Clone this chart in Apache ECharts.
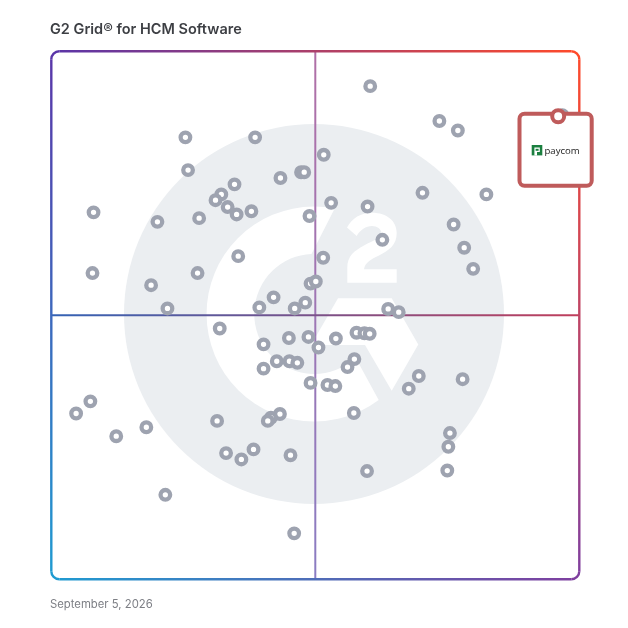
<!DOCTYPE html>
<html>
<head>
<meta charset="utf-8">
<title>G2 Grid for HCM Software</title>
<script src="https://cdn.jsdelivr.net/npm/echarts@6/dist/echarts.min.js"></script>
<style>
html, body { margin: 0; padding: 0; background: #fff; }
#container { width: 628px; height: 628px; }
</style>
</head>
<body>
<div id="container"></div>
<script>
var titleText = 'G2 Grid® for HCM Software';
var dateText = 'September 5, 2026';

// satisfaction / market presence scores
var otherX = [60.4, 73.5, 77.0, 96.8, 25.4, 38.6, 51.6, 25.9, 47.3, 47.9, 43.4, 34.7, 32.2, 31.1, 33.4, 35.1, 37.9, 28.0, 20.1, 8.0, 48.9,
    53.0, 59.9, 70.3, 82.4, 76.2, 78.2, 79.9, 62.7, 35.4, 51.5, 27.7, 7.8, 18.9, 49.1, 50.1, 42.1, 48.1, 46.1, 39.4, 22.0, 63.8,
    65.8, 31.9, 45.0, 48.7, 53.9, 57.8, 59.3, 60.3, 40.2, 50.6, 57.4, 56.1, 42.7, 45.1, 46.6, 40.2, 49.1, 52.3, 53.8, 69.6, 67.7,
    77.9, 57.3, 43.3, 41.6, 41.0, 31.4, 18.0, 12.3, 7.4, 4.7, 75.5, 75.2, 38.3, 33.1, 36.0, 45.3, 59.8, 75.0, 21.6, 46.0];
var otherY = [93.4, 86.8, 85.0, 87.9, 83.7, 83.7, 80.4, 77.5, 77.1, 77.1, 76.0, 74.8, 72.9, 71.8, 70.5, 69.1, 69.7, 68.4, 67.7, 69.5, 68.8,
    71.3, 70.6, 73.2, 72.9, 67.2, 62.8, 58.8, 64.3, 61.2, 60.9, 58.0, 58.0, 55.7, 56.0, 56.4, 53.4, 52.4, 51.3, 51.5, 51.3, 51.2,
    50.6, 47.5, 45.7, 45.9, 45.6, 46.7, 46.6, 46.5, 44.5, 43.9, 41.7, 40.2, 41.3, 41.3, 41.0, 39.9, 37.2, 36.8, 36.6, 38.5, 36.1,
    37.9, 31.5, 31.3, 30.6, 30.0, 30.0, 28.8, 27.1, 33.7, 31.4, 27.7, 25.1, 24.6, 23.9, 22.7, 23.5, 20.5, 20.6, 16.0, 8.7];
var paycomX = [96.0];
var paycomY = [87.7];
var paycomName = 'paycom';

var greyMark = '#9ea3b0';
var redMark = '#bf5b5b';
var wash = '#ebeef1';

function zipPoints(xs, ys) {
    return xs.map(function (x, i) { return [x, ys[i]]; });
}

function grad(x, y, x2, y2, c1, c2) {
    return { type: 'linear', x: x, y: y, x2: x2, y2: y2, global: true,
        colorStops: [{ offset: 0, color: c1 }, { offset: 1, color: c2 }] };
}

function strokePath(d, stroke, w) {
    return { type: 'path', shape: { pathData: d }, style: { fill: 'none', stroke: stroke, lineWidth: w } };
}

function fillPath(d, fill) {
    return { type: 'path', shape: { pathData: d }, style: { fill: fill } };
}

// watermark, quadrant lines and gradient frame
function renderBackdrop(params, api) {
    var tl = api.coord([0, 100]), br = api.coord([100, 0]), mid = api.coord([50, 50]);
    var L = tl[0], T = tl[1], R = br[0], B = br[1], r = 8;
    var cTL = '#5a35a8', cTR = '#ff4a2a', cBL = '#1f9bd1', cBR = '#7f3f9f';
    var w = 2.4;
    return {
        type: 'group',
        children: [
            { type: 'circle', shape: { cx: 314, cy: 314, r: 190 }, style: { fill: wash } },
            fillPath('M334.7 208.5 A107.5 107.5 0 1 0 378.7 399.9 L355.5 357.5 A60 60 0 1 1 311.5 254 Z', '#fff'),
            fillPath('M338 298.3 L391.7 298.3 L418.3 344.5 L391.7 390.7 L365 345 L311 345 Z', '#fff'),
            fillPath('M347.3 282.7 L347.3 268 C347.3 256 354 251 364 245.5 C374 240 381.5 238 381.5 233.5 ' +
                'C381.5 229 377 226 372 226 C366 226 360 230 356.7 236 L347 227.5 C352 218 361 212.7 372 212.7 ' +
                'C387 212.7 396.7 221 396.7 233 C396.7 245 389 250.5 379 255.5 C372 259 365 262 364 269.3 ' +
                'L396.7 269.3 L396.7 282.7 Z', '#fff'),
            strokePath('M' + mid[0] + ' ' + T + ' L' + mid[0] + ' ' + B, grad(mid[0], T, mid[0], B, '#b06fa6', '#8a7cc2'), 2),
            strokePath('M' + L + ' ' + mid[1] + ' L' + R + ' ' + mid[1], grad(L, mid[1], R, mid[1], '#3463b5', '#c03f5c'), 2),
            strokePath('M' + (L + r) + ' ' + T + ' L' + (R - r) + ' ' + T, grad(L, T, R, T, cTL, cTR), w),
            strokePath('M' + R + ' ' + (T + r) + ' L' + R + ' ' + (B - r), grad(R, T, R, B, cTR, cBR), w),
            strokePath('M' + (L + r) + ' ' + B + ' L' + (R - r) + ' ' + B, grad(L, B, R, B, cBL, cBR), w),
            strokePath('M' + L + ' ' + (T + r) + ' L' + L + ' ' + (B - r), grad(L, T, L, B, cTL, cBL), w),
            strokePath('M' + L + ' ' + (T + r) + ' A' + r + ' ' + r + ' 0 0 1 ' + (L + r) + ' ' + T, cTL, w),
            strokePath('M' + (R - r) + ' ' + T + ' A' + r + ' ' + r + ' 0 0 1 ' + R + ' ' + (T + r), cTR, w),
            strokePath('M' + R + ' ' + (B - r) + ' A' + r + ' ' + r + ' 0 0 1 ' + (R - r) + ' ' + B, cBR, w),
            strokePath('M' + (L + r) + ' ' + B + ' A' + r + ' ' + r + ' 0 0 1 ' + L + ' ' + (B - r), cBL, w)
        ]
    };
}

// the paycom callout box with its logo
function renderCallout(params, api) {
    return {
        type: 'group',
        children: [
            { type: 'rect', shape: { x: 519.5, y: 113.7, width: 72.2, height: 72, r: 5 },
                style: { fill: '#fff', stroke: redMark, lineWidth: 4 } },
            { type: 'rect', shape: { x: 531.7, y: 145, width: 10.6, height: 10.4 }, style: { fill: '#1b7f3f' } },
            fillPath('M534.4 147.6 L539.8 147.6 L539.8 152 L537 152 L537 155.4 L534.4 155.4 Z', '#fff'),
            fillPath('M535.6 148.8 L538.6 148.8 L538.6 150.8 L535.6 150.8 Z', '#1b7f3f'),
            { type: 'text', style: { x: 544.5, y: 151, text: paycomName, fill: '#222',
                font: '9.6px "Open Sans"', textVerticalAlign: 'middle' } }
        ]
    };
}

var dom = document.getElementById('container');
var myChart = echarts.init(dom);
var option = {
    animation: false,
    backgroundColor: '#fff',
    title: [
        { text: titleText, left: 50, top: 22.5, padding: 0,
            textStyle: { fontFamily: 'Inter', fontSize: 14.5, fontWeight: 600, color: '#3d3f44' } },
        { text: dateText, left: 50, top: 599, padding: 0,
            textStyle: { fontFamily: 'Inter', fontSize: 11.3, fontWeight: 400, color: '#7d7f85' } }
    ],
    grid: { left: 51.3, top: 51.3, width: 528, height: 528 },
    xAxis: { type: 'value', min: 0, max: 100, show: false },
    yAxis: { type: 'value', min: 0, max: 100, show: false },
    series: [
        { type: 'custom', z: 1, silent: true, clip: false, data: [[50, 50]], renderItem: renderBackdrop },
        { type: 'scatter', z: 2, silent: true, symbol: 'circle', symbolSize: 9.6,
            itemStyle: { color: '#fff', borderColor: greyMark, borderWidth: 4.3, opacity: 1 },
            data: zipPoints(otherX, otherY) },
        { type: 'custom', z: 3, silent: true, clip: false, data: [[50, 50]], renderItem: renderCallout },
        { type: 'scatter', z: 4, silent: true, symbol: 'circle', symbolSize: 12,
            itemStyle: { color: '#fff', borderColor: redMark, borderWidth: 4, opacity: 1 },
            data: zipPoints(paycomX, paycomY) }
    ]
};
myChart.setOption(option, true);
</script>
</body>
</html>
